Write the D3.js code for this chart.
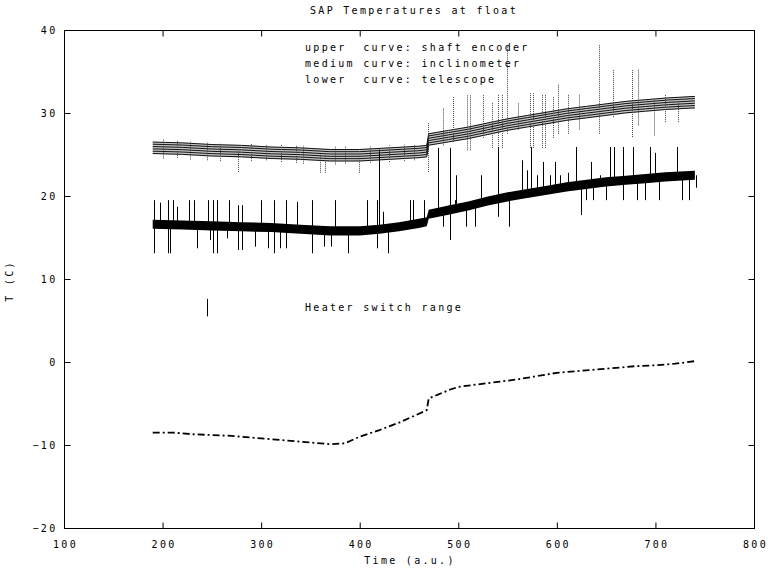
<!DOCTYPE html>
<html>
<head>
<meta charset="utf-8">
<script src="https://cdn.jsdelivr.net/npm/d3@7"></script>
<style>
  body { margin: 0; background: #fff; }
  text { font-family: "DejaVu Sans Mono", monospace; font-size: 10px; letter-spacing: 2.3px; fill: #000; }
</style>
</head>
<body>
<svg id="chart" width="768" height="569"></svg>
<script>
// shaft encoder (upper), centre of the striped band
const encoderCurve = [[190,25.8],[220,25.7],[250,25.5],[280,25.4],[310,25.2],[340,25.1],[370,24.9],[400,24.9],[430,25.1],[460,25.3],[468,25.4],
  [470,26.8],[490,27.2],[510,27.6],[530,28.1],[550,28.6],[570,29.0],[590,29.4],[610,29.8],[630,30.1],[650,30.4],[670,30.7],[690,30.9],[710,31.1],[740,31.3]];

// inclinometer (medium), centre of the black band
const inclinCurve = [[190,16.6],[220,16.5],[250,16.4],[280,16.3],[310,16.2],[340,16.0],[370,15.8],[400,15.8],[420,16.0],[440,16.3],[460,16.7],[468,16.9],
  [470,17.8],[490,18.3],[510,18.8],[530,19.4],[550,19.9],[570,20.3],[590,20.7],[610,21.1],[630,21.4],[650,21.7],[670,21.9],[690,22.1],[710,22.3],[740,22.5]];

// telescope (lower)
const telescopeCurve = [[190,-8.5],[210,-8.5],[230,-8.7],[250,-8.8],[270,-8.9],[290,-9.1],[310,-9.3],[330,-9.5],[350,-9.7],[370,-9.9],[385,-9.8],
  [400,-9.0],[420,-8.2],[440,-7.3],[455,-6.5],[468,-5.8],[470,-4.4],[480,-3.9],[490,-3.4],[500,-3.0],[520,-2.7],[540,-2.4],[560,-2.1],
  [580,-1.7],[600,-1.3],[620,-1.1],[640,-0.9],[660,-0.7],[680,-0.5],[700,-0.4],[720,-0.2],[740,0.1]];

// spikes: [time, low, high]
const encoderSpikes = [[200,24.5,26.8],[215,24.6,26.7],[228,24.4,26.6],[245,24.3,26.5],[258,24.2,26.4],[277,22.9,25.4],[290,24.2,26.3],
  [305,24.3,26.2],[320,24.1,26.2],[335,24.0,26.1],[342,23.9,26.1],[360,22.8,25.0],[365,22.8,25.0],[375,23.8,26.0],[385,23.9,26.0],
  [399,22.8,25.0],[410,24.0,26.0],[430,24.1,26.1],[445,24.2,26.2],[455,24.3,26.2],[469,22.9,28.9],[484,26.1,30.6],[495,26.5,32.0],
  [509,25.5,32.2],[512,25.5,32.2],[525,27.0,32.2],[534,25.8,31.3],[540,25.8,32.2],[544,25.8,32.2],[549,27.5,38.2],[561,28.0,31.2],
  [573,25.8,32.4],[576,25.8,32.4],[585,25.8,32.2],[588,25.8,32.2],[596,27.0,32.0],[601,27.5,33.5],[611,27.5,32.2],[622,28.0,32.2],
  [643,27.5,38.2],[657,29.5,35.2],[676,27.1,35.2],[682,28.5,35.3],[699,27.3,31.5],[710,28.9,32.2],[723,28.9,31.9]];

const inclinSpikes = [[191,13.1,19.5],[197,16.5,19.2],[205,13.1,19.5],[208,13.1,16.5],[211,16.5,19.5],[215,16.5,18.7],[227,16.4,19.5],
  [232,16.4,19.5],[235,13.7,16.4],[246,16.4,19.5],[248,14.7,16.4],[251,13.1,19.5],[255,13.1,19.5],[265,14.9,16.3],[267,16.3,19.5],
  [277,13.5,18.9],[281,13.5,18.9],[294,13.9,16.3],[300,16.3,19.5],[307,13.7,16.2],[313,13.1,19.5],[319,13.7,16.2],[325,13.7,19.5],
  [336,16.1,19.3],[352,13.1,19.5],[364,13.9,16.0],[371,13.9,15.9],[375,15.9,19.5],[388,13.1,15.9],[407,15.9,19.5],[418,13.7,19.5],
  [420,16.0,25.6],[424,16.0,18.1],[429,13.1,16.1],[451,16.4,19.5],[454,16.4,19.5],[465,16.7,19.5],[479,18.0,25.8],[484,16.3,18.2],
  [492,14.7,25.8],[497,18.5,19.5],[498,18.5,22.5],[508,16.3,18.7],[517,16.3,18.8],[523,19.0,22.5],[540,17.5,25.9],[551,16.3,19.8],
  [565,20.0,24.3],[570,20.1,23.1],[574,20.1,25.9],[580,20.2,22.5],[586,20.4,24.1],[593,20.5,22.5],[598,20.6,24.1],[603,20.7,22.5],
  [611,20.8,22.8],[619,21.0,25.9],[624,17.7,21.1],[630,19.5,21.2],[635,21.2,24.1],[637,19.5,21.3],[644,21.4,22.5],[650,19.5,21.5],
  [654,21.5,25.9],[658,21.5,25.9],[667,19.5,25.9],[677,21.8,25.9],[681,19.5,21.9],[689,19.5,22.0],[694,22.0,25.9],[700,22.0,25.2],
  [704,19.5,22.1],[722,22.3,25.9],[727,19.5,22.3],[734,19.5,22.4],[741,21.0,22.5]];

const heaterMark = [245, 5.5, 7.6];

const legendLines = ["upper  curve: shaft encoder", "medium curve: inclinometer", "lower  curve: telescope"];
const xTicks = [100, 200, 300, 400, 500, 600, 700, 800];
const yTicks = [-20, -10, 0, 10, 20, 30, 40];

const svg = d3.select("#chart");
const pLeft = 64, pRight = 754, pTop = 30, pBottom = 528;

const x = d3.scaleLinear().domain([100, 800]).range([pLeft, pRight]);
const y = d3.scaleLinear().domain([-20, 40]).range([pBottom, pTop]);

svg.append("rect").attr("width", 768).attr("height", 569).attr("fill", "#fff");

const line = d3.line().x(d => x(d[0])).y(d => y(d[1]));

// upper band: light body with dense black stripes
const encHalf = 0.75;
svg.append("path")
  .datum(encoderCurve)
  .attr("fill", "#c8c8c8")
  .attr("d", d3.area().x(d => x(d[0])).y0(d => y(d[1] - encHalf)).y1(d => y(d[1] + encHalf)));

[-0.68, -0.4, -0.12, 0.16, 0.44, 0.7].forEach(off => {
  svg.append("path")
    .datum(encoderCurve)
    .attr("fill", "none")
    .attr("stroke", "#111")
    .attr("stroke-width", 1)
    .attr("d", d3.line().x(d => x(d[0])).y(d => y(d[1] + off)));
});

svg.append("g").selectAll("line")
  .data(encoderSpikes)
  .join("line")
  .attr("x1", d => Math.round(x(d[0])) + 0.5).attr("x2", d => Math.round(x(d[0])) + 0.5)
  .attr("y1", d => y(d[1])).attr("y2", d => y(d[2]))
  .attr("stroke", "#444")
  .attr("stroke-width", 1)
  .attr("stroke-dasharray", "1,1");

// medium band
const incHalf = 0.55;
svg.append("path")
  .datum(inclinCurve)
  .attr("fill", "#000")
  .attr("d", d3.area().x(d => x(d[0])).y0(d => y(d[1] - incHalf)).y1(d => y(d[1] + incHalf)));

svg.append("g").selectAll("line")
  .data(inclinSpikes)
  .join("line")
  .attr("x1", d => Math.round(x(d[0])) + 0.5).attr("x2", d => Math.round(x(d[0])) + 0.5)
  .attr("y1", d => y(d[1])).attr("y2", d => y(d[2]))
  .attr("stroke", "#000")
  .attr("stroke-width", 1);

// lower curve, dash-dot
svg.append("path")
  .datum(telescopeCurve)
  .attr("fill", "none")
  .attr("stroke", "#000")
  .attr("stroke-width", 1.8)
  .attr("stroke-dasharray", "7,3,2,3")
  .attr("d", line);

// heater switch range marker
svg.append("line")
  .attr("x1", Math.round(x(heaterMark[0])) + 0.5).attr("x2", Math.round(x(heaterMark[0])) + 0.5)
  .attr("y1", y(heaterMark[1])).attr("y2", y(heaterMark[2]))
  .attr("stroke", "#000");
svg.append("text").attr("x", 305).attr("y", 311).text("Heater switch range");

// frame and ticks
svg.append("rect")
  .attr("x", pLeft + 0.5).attr("y", pTop + 0.5)
  .attr("width", pRight - pLeft).attr("height", pBottom - pTop)
  .attr("fill", "none").attr("stroke", "#000");

const styleAxis = g => {
  g.select(".domain").remove();
  g.selectAll(".tick line").attr("stroke", "#000");
  g.selectAll("text").attr("font-family", null).attr("font-size", null).attr("fill", "#000");
};

svg.append("g")
  .attr("transform", `translate(0,${pBottom + 0.5})`)
  .call(d3.axisBottom(x).tickValues(xTicks).tickSize(-6).tickPadding(12))
  .call(styleAxis)
  .call(g => g.selectAll("text").attr("dx", "1px"));

svg.append("g")
  .attr("transform", `translate(0,${pTop + 0.5})`)
  .call(d3.axisTop(x).tickValues(xTicks).tickSize(-6).tickFormat(""))
  .call(styleAxis);

svg.append("g")
  .attr("transform", `translate(${pLeft + 0.5},0)`)
  .call(d3.axisLeft(y).tickValues(yTicks).tickSize(-6).tickPadding(7))
  .call(styleAxis);

svg.append("g")
  .attr("transform", `translate(${pRight + 0.5},0)`)
  .call(d3.axisRight(y).tickValues(yTicks).tickSize(-6).tickFormat(""))
  .call(styleAxis);

// texts
svg.append("text").attr("x", 414).attr("y", 14).attr("text-anchor", "middle").text("SAP Temperatures at float");
svg.append("text").attr("x", 410).attr("y", 564).attr("text-anchor", "middle").text("Time (a.u.)");
svg.append("text")
  .attr("transform", "translate(13,281) rotate(-90)")
  .attr("text-anchor", "middle")
  .text("T (C)");

svg.append("g").selectAll("text")
  .data(legendLines)
  .join("text")
  .attr("x", 305)
  .attr("y", (d, i) => 51 + i * 16)
  .attr("xml:space", "preserve")
  .style("white-space", "pre")
  .text(d => d);
</script>
</body>
</html>
